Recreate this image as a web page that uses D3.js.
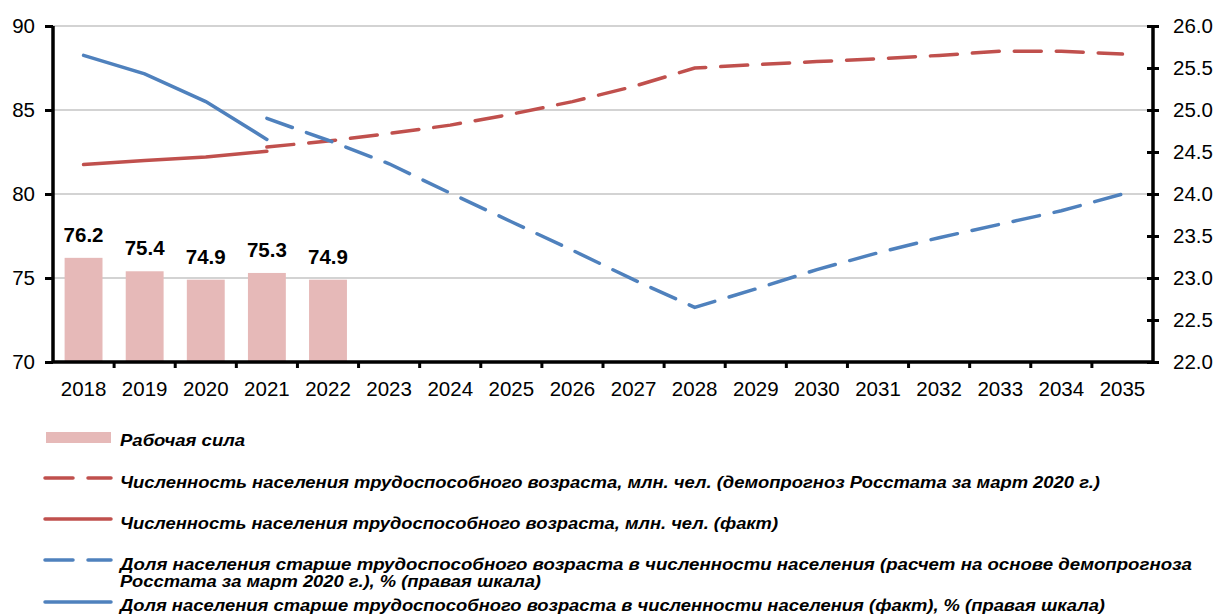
<!DOCTYPE html>
<html>
<head>
<meta charset="utf-8">
<script src="https://cdn.jsdelivr.net/npm/d3@7"></script>
<style>
  body { margin: 0; background: #fff; }
  svg { font-family: "Liberation Sans", Arial, sans-serif; }
</style>
</head>
<body>
<svg></svg>
<script>
const svgWidth = 1217
const svgHeight = 615
const margins = { top: 26, left: 53, right: 64, bottom: 253 } // plot area 53..1153 x 26..362
const plotWidth = svgWidth - margins.left - margins.right
const plotHeight = svgHeight - margins.top - margins.bottom

// data
const years = ["2018", "2019", "2020", "2021", "2022", "2023", "2024", "2025", "2026",
    "2027", "2028", "2029", "2030", "2031", "2032", "2033", "2034", "2035"]
const laborForce = [76.2, 75.4, 74.9, 75.3, 74.9]
const workingAgeFact = [81.75, 82.0, 82.2, 82.55]
const workingAgeForecast = [82.8, 83.15, 83.6, 84.1, 84.75, 85.5, 86.4, 87.5, 87.7, 87.88,
    88.05, 88.25, 88.5, 88.5, 88.33] // 2021..2035
const olderShareFact = [25.65, 25.43, 25.1, 24.65]
const olderShareForecast = [24.9, 24.64, 24.36, 24.01, 23.67, 23.33, 22.98, 22.65, 22.87,
    23.1, 23.3, 23.48, 23.64, 23.8, 24.0] // 2021..2035
const leftTicks = [70, 75, 80, 85, 90]
const rightTicks = [22.0, 22.5, 23.0, 23.5, 24.0, 24.5, 25.0, 25.5, 26.0]
const legendLabels = [
    ["Рабочая сила"],
    ["Численность  населения  трудоспособного возраста, млн. чел. (демопрогноз Росстата  за март  2020 г.)"],
    ["Численность  населения  трудоспособного возраста, млн. чел. (факт)"],
    ["Доля населения  старше трудоспособного возраста в численности  населения  (расчет  на основе  демопрогноза",
     "Росстата  за март 2020 г.), % (правая  шкала)"],
    ["Доля населения  старше трудоспособного возраста в численности  населения  (факт), % (правая  шкала)"]
]

const red = "#C0504D"
const blue = "#4F81BD"
const pink = "#E6B9B8"

const svg = d3.select("svg")
    .attr("width", svgWidth)
    .attr("height", svgHeight)

const xScale = d3.scaleBand()
    .domain(years)
    .range([0, plotWidth])
    .paddingInner(0.38)
    .paddingOuter(0.19)
const xCenter = (y) => xScale(y) + xScale.bandwidth() / 2
const step = plotWidth / years.length
const yLeft = d3.scaleLinear().domain([70, 90]).range([plotHeight, 0])
const yRight = d3.scaleLinear().domain([22, 26]).range([plotHeight, 0])

const plotGroup = svg.append("g")
    .attr("transform", `translate(${margins.left},${margins.top})`)

// gridlines
plotGroup.selectAll(".grid")
    .data(leftTicks.slice(1))
    .join("line")
    .attr("x1", 0)
    .attr("x2", plotWidth)
    .attr("y1", (d) => yLeft(d))
    .attr("y2", (d) => yLeft(d))
    .attr("stroke", "#c4c4c4")
    .attr("stroke-width", 1.5)

// bars
plotGroup.selectAll(".bar")
    .data(laborForce)
    .join("rect")
    .attr("x", (d, i) => xScale(years[i]))
    .attr("y", (d) => yLeft(d))
    .attr("width", xScale.bandwidth())
    .attr("height", (d) => yLeft(70) - yLeft(d))
    .attr("fill", pink)

plotGroup.selectAll(".barLabel")
    .data(laborForce)
    .join("text")
    .text((d) => d.toFixed(1))
    .attr("x", (d, i) => xCenter(years[i]))
    .attr("y", (d) => yLeft(d) - 16)
    .attr("text-anchor", "middle")
    .attr("font-size", 20.5)
    .attr("font-weight", "bold")

// lines
function drawLine(values, startIndex, scale, color, dashed) {
    const line = d3.line()
        .x((d, i) => xCenter(years[startIndex + i]))
        .y((d) => scale(d))
    plotGroup.append("path")
        .datum(values)
        .attr("d", line)
        .attr("fill", "none")
        .attr("stroke", color)
        .attr("stroke-width", 3.5)
        .attr("stroke-linecap", "round")
        .attr("stroke-dasharray", dashed ? "27,15" : null)
}
drawLine(workingAgeFact, 0, yLeft, red, false)
drawLine(workingAgeForecast, 3, yLeft, red, true)
drawLine(olderShareFact, 0, yRight, blue, false)
drawLine(olderShareForecast, 3, yRight, blue, true)

// axes
const axisColor = "#000"
const leftAxis = svg.append("g")
    .attr("transform", `translate(${margins.left},${margins.top})`)
    .call(d3.axisLeft(yLeft).tickValues(leftTicks).tickSize(8).tickPadding(10))
const rightAxis = svg.append("g")
    .attr("transform", `translate(${margins.left + plotWidth},${margins.top})`)
    .call(d3.axisRight(yRight).tickValues(rightTicks).tickFormat(d3.format(".1f")).tickSize(6).tickPadding(14))
rightAxis.selectAll(".tick line").attr("x1", -6)
const bottomAxis = svg.append("g")
    .attr("transform", `translate(${margins.left},${margins.top + plotHeight})`)
    .call(d3.axisBottom(xScale).tickSize(0).tickPadding(19))
bottomAxis.selectAll(".sep")
    .data(d3.range(1, years.length))
    .join("line")
    .attr("x1", (d) => d * step)
    .attr("x2", (d) => d * step)
    .attr("y1", 0)
    .attr("y2", 6)
    .attr("stroke", axisColor)
    .attr("stroke-width", 3)

for (const ax of [leftAxis, rightAxis, bottomAxis]) {
    ax.select(".domain").attr("stroke", axisColor).attr("stroke-width", 3.5)
    ax.selectAll(".tick line").attr("stroke", axisColor).attr("stroke-width", 3)
    ax.selectAll("text").attr("font-size", 20.5).attr("fill", "#000")
        .attr("font-family", "'Liberation Sans', Arial, sans-serif")
}
leftAxis.select(".domain").attr("d", `M0,${plotHeight}V0`)
rightAxis.select(".domain").attr("d", `M0,${plotHeight}V0`)
bottomAxis.select(".domain").attr("d", `M0,0H${plotWidth}`)

// legend
const legend = svg.append("g")
const legendY = [437, 478, 519, 560, 602]
const textY = [[446], [488], [529], [570, 587], [611]]
const textLen = [[125], [980], [658], [1072, 421], [985]]
legendLabels.forEach((lines, i) => {
    const y = legendY[i]
    if (i === 0) {
        legend.append("rect")
            .attr("x", 46).attr("y", y - 5).attr("width", 65).attr("height", 11)
            .attr("fill", pink)
    } else {
        const color = i < 3 ? red : blue
        const dashed = i === 1 || i === 3
        legend.append("line")
            .attr("x1", 45).attr("x2", 111).attr("y1", y).attr("y2", y)
            .attr("stroke", color).attr("stroke-width", 3.5)
            .attr("stroke-linecap", "round")
            .attr("stroke-dasharray", dashed ? "28,15" : null)
    }
    lines.forEach((t, j) => {
        legend.append("text")
            .text(t)
            .attr("x", 120)
            .attr("y", textY[i][j])
            .attr("font-size", 17)
            .attr("font-weight", "bold")
            .attr("font-style", "italic")
            .attr("textLength", textLen[i][j])
            .attr("lengthAdjust", "spacingAndGlyphs")
    })
})
</script>
</body>
</html>
